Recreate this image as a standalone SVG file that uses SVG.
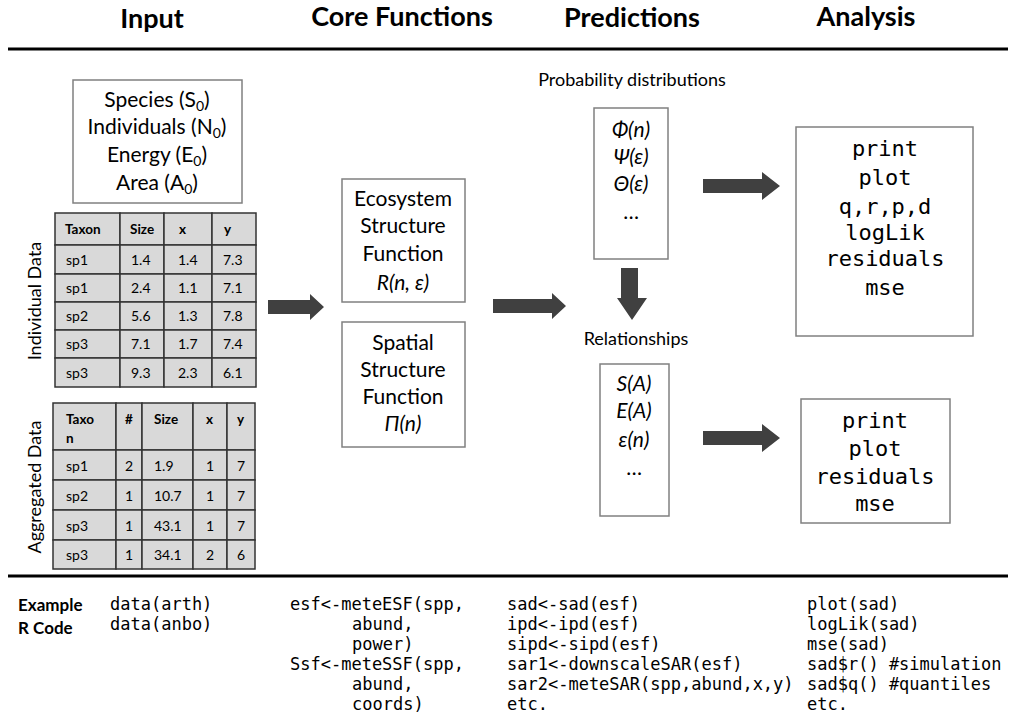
<svg xmlns="http://www.w3.org/2000/svg" width="1014" height="726" viewBox="0 0 1014 726">
<defs>
<style>
.hdr{font-family:Lato,"Open Sans","DejaVu Sans",sans-serif;font-weight:bold;font-size:27px;fill:#000;text-anchor:middle}
.box{fill:#fff;stroke:#808080;stroke-width:1.5}
.t{font-family:Lato,"Open Sans","DejaVu Sans",sans-serif;font-size:21px;fill:#000;text-anchor:middle}
.ti{font-family:Lato,"Open Sans","DejaVu Sans",sans-serif;font-size:21px;font-style:italic;fill:#000;text-anchor:middle}
.lbl{font-family:Lato,"Open Sans","DejaVu Sans",sans-serif;font-size:18px;fill:#000;text-anchor:middle}
.mono{font-family:"DejaVu Sans Mono","Liberation Mono",monospace;font-size:22px;fill:#000;text-anchor:middle}
.code{font-family:"DejaVu Sans Mono","Liberation Mono",monospace;font-size:17px;fill:#000}
.bold{font-family:Lato,"Open Sans","DejaVu Sans",sans-serif;font-weight:bold;font-size:17px;fill:#000}
.cell{fill:#d9d9d9;stroke:#333;stroke-width:1.5}
.tc{font-family:Lato,"Open Sans","DejaVu Sans",sans-serif;font-size:14px;fill:#000}
.th{font-family:Lato,"Open Sans","DejaVu Sans",sans-serif;font-size:13.5px;font-weight:bold;fill:#000}
.arr{fill:#404040}
.rule{stroke:#000;stroke-width:3}
</style>
</defs>
<rect width="1014" height="726" fill="#fff"/>

<g id="headers">
<text class="hdr" x="152" y="28">Input</text>
<text class="hdr" x="402" y="26">Core Functions</text>
<text class="hdr" x="632" y="27">Predictions</text>
<text class="hdr" x="866" y="26">Analysis</text>
</g>
<line class="rule" x1="8" y1="49" x2="1008" y2="49"/>
<line class="rule" x1="8" y1="576" x2="1008" y2="576"/>

<g id="state-variables">
<rect class="box" x="73" y="80" width="169" height="123"/>
<text class="t" x="157" y="107">Species (S<tspan font-size="14" dy="4">0</tspan><tspan dy="-4">)</tspan></text>
<text class="t" x="157" y="134">Individuals  (N<tspan font-size="14" dy="4">0</tspan><tspan dy="-4">)</tspan></text>
<text class="t" x="157" y="162">Energy (E<tspan font-size="14" dy="4">0</tspan><tspan dy="-4">)</tspan></text>
<text class="t" x="157" y="190">Area (A<tspan font-size="14" dy="4">0</tspan><tspan dy="-4">)</tspan></text>
</g>

<g id="individual-data">
<text class="lbl" transform="translate(41,301) rotate(-90)">Individual Data</text>
<g>
<rect class="cell" x="55" y="213" width="65" height="32"/><rect class="cell" x="120" y="213" width="44" height="32"/><rect class="cell" x="164" y="213" width="48" height="32"/><rect class="cell" x="212" y="213" width="44" height="32"/>
<rect class="cell" x="55" y="245" width="65" height="29"/><rect class="cell" x="120" y="245" width="44" height="29"/><rect class="cell" x="164" y="245" width="48" height="29"/><rect class="cell" x="212" y="245" width="44" height="29"/>
<rect class="cell" x="55" y="274" width="65" height="28"/><rect class="cell" x="120" y="274" width="44" height="28"/><rect class="cell" x="164" y="274" width="48" height="28"/><rect class="cell" x="212" y="274" width="44" height="28"/>
<rect class="cell" x="55" y="302" width="65" height="28"/><rect class="cell" x="120" y="302" width="44" height="28"/><rect class="cell" x="164" y="302" width="48" height="28"/><rect class="cell" x="212" y="302" width="44" height="28"/>
<rect class="cell" x="55" y="330" width="65" height="28"/><rect class="cell" x="120" y="330" width="44" height="28"/><rect class="cell" x="164" y="330" width="48" height="28"/><rect class="cell" x="212" y="330" width="44" height="28"/>
<rect class="cell" x="55" y="358" width="65" height="29"/><rect class="cell" x="120" y="358" width="44" height="29"/><rect class="cell" x="164" y="358" width="48" height="29"/><rect class="cell" x="212" y="358" width="44" height="29"/>
</g>
<text class="th" x="65" y="234">Taxon</text><text class="th" x="130" y="234">Size</text><text class="th" x="179" y="234">x</text><text class="th" x="224" y="234">y</text>
<text class="tc" x="66" y="265">sp1</text><text class="tc" x="131" y="265">1.4</text><text class="tc" x="178" y="265">1.4</text><text class="tc" x="223" y="265">7.3</text>
<text class="tc" x="66" y="293">sp1</text><text class="tc" x="131" y="293">2.4</text><text class="tc" x="178" y="293">1.1</text><text class="tc" x="223" y="293">7.1</text>
<text class="tc" x="66" y="321">sp2</text><text class="tc" x="131" y="321">5.6</text><text class="tc" x="178" y="321">1.3</text><text class="tc" x="223" y="321">7.8</text>
<text class="tc" x="66" y="349">sp3</text><text class="tc" x="131" y="349">7.1</text><text class="tc" x="178" y="349">1.7</text><text class="tc" x="223" y="349">7.4</text>
<text class="tc" x="66" y="378">sp3</text><text class="tc" x="131" y="378">9.3</text><text class="tc" x="178" y="378">2.3</text><text class="tc" x="223" y="378">6.1</text>
</g>

<g id="aggregated-data">
<text class="lbl" transform="translate(41,487) rotate(-90)">Aggregated Data</text>
<g>
<rect class="cell" x="53" y="403" width="63" height="47"/><rect class="cell" x="116" y="403" width="26" height="47"/><rect class="cell" x="142" y="403" width="51" height="47"/><rect class="cell" x="193" y="403" width="34" height="47"/><rect class="cell" x="227" y="403" width="28" height="47"/>
<rect class="cell" x="53" y="450" width="63" height="30"/><rect class="cell" x="116" y="450" width="26" height="30"/><rect class="cell" x="142" y="450" width="51" height="30"/><rect class="cell" x="193" y="450" width="34" height="30"/><rect class="cell" x="227" y="450" width="28" height="30"/>
<rect class="cell" x="53" y="480" width="63" height="30"/><rect class="cell" x="116" y="480" width="26" height="30"/><rect class="cell" x="142" y="480" width="51" height="30"/><rect class="cell" x="193" y="480" width="34" height="30"/><rect class="cell" x="227" y="480" width="28" height="30"/>
<rect class="cell" x="53" y="510" width="63" height="30"/><rect class="cell" x="116" y="510" width="26" height="30"/><rect class="cell" x="142" y="510" width="51" height="30"/><rect class="cell" x="193" y="510" width="34" height="30"/><rect class="cell" x="227" y="510" width="28" height="30"/>
<rect class="cell" x="53" y="540" width="63" height="29"/><rect class="cell" x="116" y="540" width="26" height="29"/><rect class="cell" x="142" y="540" width="51" height="29"/><rect class="cell" x="193" y="540" width="34" height="29"/><rect class="cell" x="227" y="540" width="28" height="29"/>
</g>
<text class="th" x="66" y="424">Taxo</text><text class="th" x="66" y="443">n</text><text class="th" x="125" y="424">#</text><text class="th" x="154" y="424">Size</text><text class="th" x="206" y="424">x</text><text class="th" x="237" y="424">y</text>
<text class="tc" x="66" y="471">sp1</text><text class="tc" x="125" y="471">2</text><text class="tc" x="154" y="471">1.9</text><text class="tc" x="206" y="471">1</text><text class="tc" x="237" y="471">7</text>
<text class="tc" x="66" y="501">sp2</text><text class="tc" x="125" y="501">1</text><text class="tc" x="154" y="501">10.7</text><text class="tc" x="206" y="501">1</text><text class="tc" x="237" y="501">7</text>
<text class="tc" x="66" y="531">sp3</text><text class="tc" x="125" y="531">1</text><text class="tc" x="154" y="531">43.1</text><text class="tc" x="206" y="531">1</text><text class="tc" x="237" y="531">7</text>
<text class="tc" x="66" y="560">sp3</text><text class="tc" x="125" y="560">1</text><text class="tc" x="154" y="560">34.1</text><text class="tc" x="206" y="560">2</text><text class="tc" x="237" y="560">6</text>
</g>

<g id="ecosystem-structure-function">
<rect class="box" x="342" y="179" width="123" height="123"/>
<text class="t" x="403" y="206">Ecosystem</text>
<text class="t" x="403" y="233">Structure</text>
<text class="t" x="403" y="261">Function</text>
<text class="ti" x="403" y="290">R(n, ε)</text>
</g>

<g id="spatial-structure-function">
<rect class="box" x="342" y="322" width="123" height="125"/>
<text class="t" x="403" y="350">Spatial</text>
<text class="t" x="403" y="377">Structure</text>
<text class="t" x="403" y="404">Function</text>
<text class="ti" x="403" y="431">Π(n)</text>
</g>

<g id="probability-distributions">
<text class="lbl" x="632" y="86">Probability distributions</text>
<rect class="box" x="594" y="108" width="74" height="151"/>
<text class="ti" x="631" y="137">Φ(n)</text>
<text class="ti" x="631" y="164">Ψ(ε)</text>
<text class="ti" x="631" y="191">Θ(ε)</text>
<text class="t" x="631" y="219">…</text>
</g>

<g id="relationships">
<text class="lbl" x="636" y="345">Relationships</text>
<rect class="box" x="600" y="364" width="69" height="152"/>
<text class="ti" x="634" y="391">S(A)</text>
<text class="ti" x="634" y="418">E(A)</text>
<text class="ti" x="634" y="447">ε(n)</text>
<text class="t" x="634" y="475">…</text>
</g>

<g id="analysis-distributions">
<rect class="box" x="796" y="127" width="177" height="209"/>
<text class="mono" x="885" y="156">print</text>
<text class="mono" x="885" y="185">plot</text>
<text class="mono" x="885" y="214">q,r,p,d</text>
<text class="mono" x="885" y="240">logLik</text>
<text class="mono" x="885" y="266">residuals</text>
<text class="mono" x="885" y="295">mse</text>
</g>

<g id="analysis-relationships">
<rect class="box" x="801" y="399" width="149" height="124"/>
<text class="mono" x="875" y="428">print</text>
<text class="mono" x="875" y="456">plot</text>
<text class="mono" x="875" y="484">residuals</text>
<text class="mono" x="875" y="511">mse</text>
</g>

<g id="connectors">
<polygon class="arr" points="268,300 310,300 310,294 324,307 310,320 310,314 268,314"/>
<polygon class="arr" points="493,299 552,299 552,293 566,306 552,319 552,313 493,313"/>
<polygon class="arr" points="703,179 762,179 762,172 780,186 762,200 762,193 703,193"/>
<polygon class="arr" points="703,431 762,431 762,424 780,438 762,452 762,445 703,445"/>
<polygon class="arr" points="621,268 638,268 638,298 647,298 632,320 617,298 621,298"/>
</g>

<g id="example-code">
<text class="bold" x="18" y="611">Example</text>
<text class="bold" x="18" y="634">R Code</text>
<text class="code" x="110" y="610">data(arth)</text>
<text class="code" x="110" y="630">data(anbo)</text>
<text class="code" x="290" y="610">esf&lt;-meteESF(spp,</text>
<text class="code" x="352" y="630">abund,</text>
<text class="code" x="352" y="650">power)</text>
<text class="code" x="290" y="670">Ssf&lt;-meteSSF(spp,</text>
<text class="code" x="352" y="690">abund,</text>
<text class="code" x="352" y="710">coords)</text>
<text class="code" x="507" y="610">sad&lt;-sad(esf)</text>
<text class="code" x="507" y="630">ipd&lt;-ipd(esf)</text>
<text class="code" x="507" y="650">sipd&lt;-sipd(esf)</text>
<text class="code" x="507" y="670">sar1&lt;-downscaleSAR(esf)</text>
<text class="code" x="507" y="690">sar2&lt;-meteSAR(spp,abund,x,y)</text>
<text class="code" x="507" y="710">etc.</text>
<text class="code" x="807" y="610">plot(sad)</text>
<text class="code" x="807" y="630">logLik(sad)</text>
<text class="code" x="807" y="650">mse(sad)</text>
<text class="code" x="807" y="670">sad$r() #simulation</text>
<text class="code" x="807" y="690">sad$q() #quantiles</text>
<text class="code" x="807" y="710">etc.</text>
</g>
</svg>
